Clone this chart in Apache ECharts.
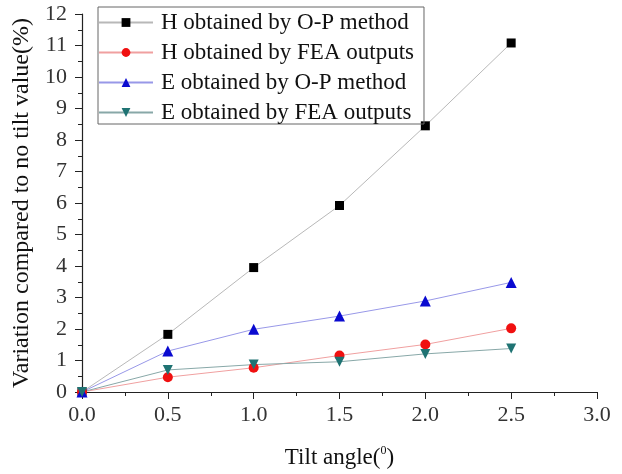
<!DOCTYPE html>
<html>
<head>
<meta charset="utf-8">
<script src="https://cdn.jsdelivr.net/npm/echarts@6/dist/echarts.min.js"></script>
<style>
  html, body { margin: 0; padding: 0; background: #fff; }
  #chart { width: 622px; height: 474px; }
</style>
</head>
<body>
<div id="chart"></div>
<script>
// tilt angles (deg)
const tilt = [0, 0.5, 1.0, 1.5, 2.0, 2.5];
// variation compared to no tilt value (%)
const hOP = [0, 1.83, 3.95, 5.92, 8.45, 11.08];
const hFEA = [0, 0.47, 0.77, 1.16, 1.51, 2.02];
const eOP = [0, 1.30, 1.99, 2.41, 2.89, 3.48];
const eFEA = [0, 0.70, 0.87, 0.96, 1.21, 1.38];
const names = [
  'H obtained by O-P method',
  'H obtained by FEA outputs',
  'E obtained by O-P method',
  'E obtained by FEA outputs'
];

const font = 'Liberation Serif, Times New Roman, serif';
const pairs = ys => tilt.map((x, i) => [x, ys[i]]);

const chart = echarts.init(document.getElementById('chart'));

function line(name, ys, symbol, size, color, lineColor) {
  return {
    name: name,
    type: 'line',
    data: pairs(ys),
    symbol: symbol,
    symbolSize: size,
    showAllSymbol: true,
    itemStyle: {color: color},
    lineStyle: {color: lineColor, width: 1},
    emphasis: {disabled: true},
    animation: false
  };
}

chart.setOption({
  backgroundColor: '#fff',
  textStyle: {fontFamily: font, color: '#000'},
  grid: {left: 82, right: 25, top: 14, bottom: 82},
  legend: {
    orient: 'vertical',
    left: 98,
    top: 7,
    itemWidth: 54,
    itemHeight: 11,
    itemGap: 7,
    padding: [4, 10, 0, 0],
    borderColor: '#666',
    borderWidth: 1,
    textStyle: {fontFamily: font, fontSize: 23, lineHeight: 22, color: '#111', padding: [0, 0, 0, 3]},
    data: names
  },
  xAxis: {
    type: 'value',
    min: 0,
    max: 3,
    interval: 0.5,
    name: '{a|Tilt angle(}{s|0}{a|)}',
    nameLocation: 'middle',
    nameGap: 53,
    nameTextStyle: {
      rich: {
        a: {fontFamily: font, fontSize: 23, color: '#111'},
        s: {fontFamily: font, fontSize: 12, color: '#111', verticalAlign: 'top', padding: [0, 0, 13, 0]}
      }
    },
    axisLine: {show: true, lineStyle: {color: '#222', width: 1.2}},
    axisTick: {show: true, inside: false, length: 7, lineStyle: {color: '#222'}},
    minorTick: {show: true, splitNumber: 2, length: 4, lineStyle: {color: '#222'}},
    splitLine: {show: false},
    axisLabel: {
      fontFamily: font, fontSize: 22, color: '#333', margin: 12,
      formatter: v => v.toFixed(1)
    }
  },
  yAxis: {
    type: 'value',
    min: 0,
    max: 12,
    interval: 1,
    name: 'Variation compared to no tilt value(%)',
    nameLocation: 'middle',
    nameGap: 38,
    nameTextStyle: {fontFamily: font, fontSize: 24, color: '#111'},
    axisLine: {show: true, lineStyle: {color: '#222', width: 1.2}},
    axisTick: {show: true, inside: false, length: 7, lineStyle: {color: '#222'}},
    minorTick: {show: true, splitNumber: 2, length: 4, lineStyle: {color: '#222'}},
    splitLine: {show: false},
    axisLabel: {fontFamily: font, fontSize: 22, color: '#333', margin: 15}
  },
  series: [
    line(names[0], hOP, 'rect', 9, '#000000', '#b8b8b8'),
    line(names[1], hFEA, 'circle', 10, '#f01010', '#f0a0a0'),
    line(names[2], eOP, 'triangle', 11, '#0a0ad0', '#9898e8'),
    line(names[3], eFEA, 'path://M0,0 L10,0 L5,9 Z', 10, '#1f7373', '#88a8a8')
  ]
});
</script>
</body>
</html>
